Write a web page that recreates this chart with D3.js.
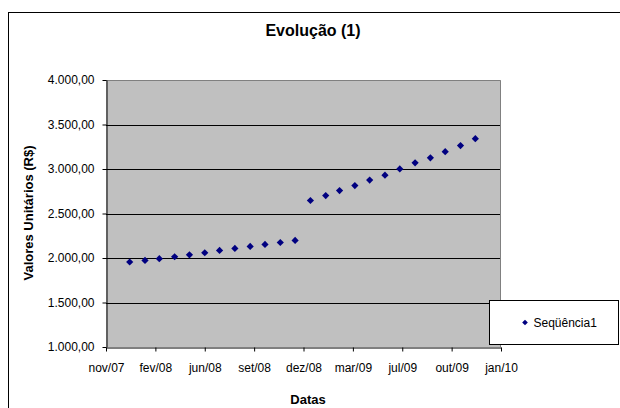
<!DOCTYPE html>
<html>
<head>
<meta charset="utf-8">
<script src="https://cdn.jsdelivr.net/npm/d3@7.9.0/dist/d3.min.js"></script>
<style>
  body { margin: 0; background: #fff; }
  svg { display: block; font-family: "Liberation Sans", Arial, sans-serif; }
</style>
</head>
<body>
<svg id="chart"></svg>
<script>
// monthly points, jan/08 .. dez/09
const months = ["2008-01", "2008-02", "2008-03", "2008-04", "2008-05", "2008-06",
                "2008-07", "2008-08", "2008-09", "2008-10", "2008-11", "2008-12",
                "2009-01", "2009-02", "2009-03", "2009-04", "2009-05", "2009-06",
                "2009-07", "2009-08", "2009-09", "2009-10", "2009-11", "2009-12"];
const values = [1955, 1973, 1992, 2014, 2036, 2059, 2085, 2107, 2130, 2152, 2174, 2197,
                2646, 2702, 2758, 2814, 2875, 2931, 3001, 3069, 3125, 3195, 3263, 3341];

// excel date axis: serial 39400 .. 40200, major unit 100 days
const xStart = "2007-11-14";
const xEnd = "2010-01-22";
const xTickLabels = ["nov/07", "fev/08", "jun/08", "set/08", "dez/08", "mar/09", "jul/09", "out/09", "jan/10"];
const yTicks = [1000, 1500, 2000, 2500, 3000, 3500, 4000];

const chartTitle = "Evolução (1)";
const xTitle = "Datas";
const yTitle = "Valores Unitários (R$)";
const seriesName = "Seqüência1";

const svgWidth = 620;
const svgHeight = 408;
const plot = { left: 106, top: 80, right: 501, bottom: 347 };
const DAY = 24 * 60 * 60 * 1000;

const parse = d3.utcParse("%Y-%m-%d");
const data = months.map((m, i) => ({ date: parse(m + "-01"), value: values[i] }));

const svg = d3.select("#chart")
    .attr("width", svgWidth)
    .attr("height", svgHeight);

// chart area border (runs off the right/bottom edge)
svg.append("rect")
    .attr("x", 8.5)
    .attr("y", 12.5)
    .attr("width", 640)
    .attr("height", 440)
    .attr("fill", "#fff")
    .attr("stroke", "#000");

let xScale = d3.scaleUtc()
    .domain([parse(xStart), parse(xEnd)])
    .range([plot.left, plot.right]);

let yScale = d3.scaleLinear()
    .domain([1000, 4000])
    .range([plot.bottom, plot.top]);

const ptBr = d3.formatLocale({ decimal: ",", thousands: ".", grouping: [3], currency: ["R$", ""] });
const yFormat = ptBr.format(",.2f");

// plot area
svg.append("rect")
    .attr("x", plot.left)
    .attr("y", plot.top)
    .attr("width", plot.right - plot.left)
    .attr("height", plot.bottom - plot.top)
    .attr("fill", "#c0c0c0");

svg.append("path")
    .attr("d", `M${plot.left},${plot.top + 0.5}H${plot.right - 0.5}V${plot.bottom}`)
    .attr("fill", "none")
    .attr("stroke", "#808080");

// gridlines
svg.append("g")
    .selectAll("line")
    .data(yTicks.slice(1, -1))
    .enter()
    .append("line")
    .attr("x1", plot.left)
    .attr("x2", plot.right - 1)
    .attr("y1", d => Math.round(yScale(d)) + 0.5)
    .attr("y2", d => Math.round(yScale(d)) + 0.5)
    .attr("stroke", "#000");

// axes
const xTickValues = xTickLabels.map((_, i) => new Date(parse(xStart).getTime() + i * 100 * DAY));

const xAxis = svg.append("g")
    .attr("transform", `translate(0, ${plot.bottom + 0.5})`)
    .call(d3.axisBottom(xScale)
        .tickValues(xTickValues)
        .tickFormat((d, i) => xTickLabels[i])
        .tickSizeInner(4)
        .tickSizeOuter(0)
        .tickPadding(12));
xAxis.selectAll("text")
    .style("font-size", "12px")
    .attr("fill", "#000");

const yAxis = svg.append("g")
    .attr("transform", `translate(${plot.left + 0.5}, 0)`)
    .call(d3.axisLeft(yScale)
        .tickValues(yTicks)
        .tickFormat(yFormat)
        .tickSizeInner(4)
        .tickSizeOuter(0)
        .tickPadding(8));
yAxis.selectAll("text")
    .style("font-size", "12px")
    .attr("fill", "#000");

svg.selectAll(".domain, .tick line").attr("stroke", "#000");

// titles
svg.append("text")
    .attr("x", 313)
    .attr("y", 36)
    .attr("text-anchor", "middle")
    .style("font-size", "16px")
    .style("font-weight", "bold")
    .text(chartTitle);

svg.append("text")
    .attr("x", 308)
    .attr("y", 404)
    .attr("text-anchor", "middle")
    .style("font-size", "13px")
    .style("font-weight", "bold")
    .text(xTitle);

svg.append("text")
    .attr("transform", "rotate(-90)")
    .attr("x", -213)
    .attr("y", 33)
    .attr("text-anchor", "middle")
    .style("font-size", "13px")
    .style("font-weight", "bold")
    .text(yTitle);

// points
const diamond = d3.symbol().type(d3.symbolSquare).size(26);

svg.append("g")
    .selectAll("path")
    .data(data)
    .enter()
    .append("path")
    .attr("d", diamond)
    .attr("transform", d => `translate(${xScale(d.date)}, ${yScale(d.value)}) rotate(45)`)
    .attr("fill", "#000080");

// legend
const legend = svg.append("g")
    .attr("transform", "translate(489.5, 300.5)");

legend.append("rect")
    .attr("width", 129)
    .attr("height", 44)
    .attr("fill", "#fff")
    .attr("stroke", "#000");

legend.append("path")
    .attr("d", d3.symbol().type(d3.symbolSquare).size(16))
    .attr("transform", "translate(35.5, 22) rotate(45)")
    .attr("fill", "#000080");

legend.append("text")
    .attr("x", 44)
    .attr("y", 26)
    .style("font-size", "12px")
    .text(seriesName);
</script>
</body>
</html>
